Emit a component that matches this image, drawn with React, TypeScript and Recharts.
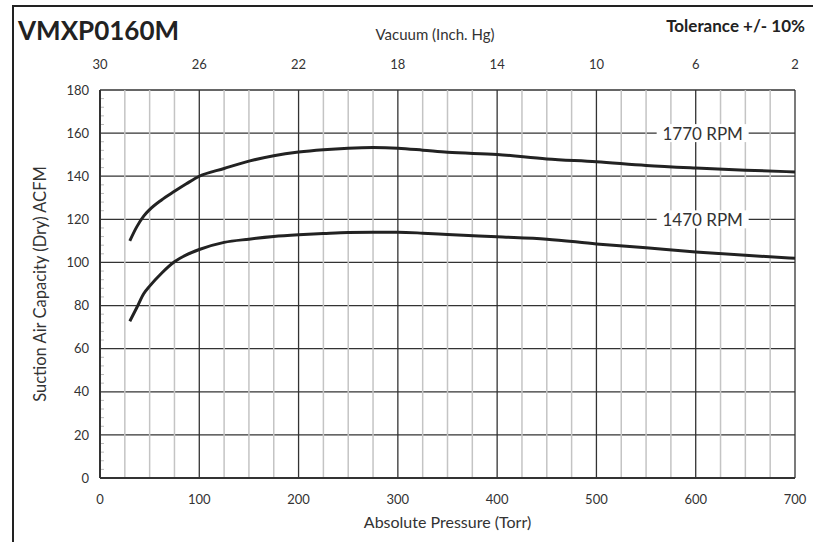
import React from 'react'
import {
  LineChart,
  Line,
  XAxis,
  YAxis,
  CartesianGrid,
  ReferenceLine,
  ReferenceDot,
} from 'recharts'

// absolute pressure, Torr
const pressure = [30, 37, 44, 50, 62, 75, 87, 100, 125, 150, 175, 200, 225, 250, 275, 300, 325, 350, 400, 450, 500, 550, 600, 650, 700]
// ACFM at each pressure
const rpm1770 = [110, 116.5, 121.5, 124.5, 129, 133, 136.5, 140, 143.6, 147, 149.5, 151.2, 152.3, 153, 153.3, 153, 152.1, 151.1, 150.1, 148, 146.7, 145, 143.8, 142.8, 142]
const rpm1470 = [72.7, 79, 85.5, 89, 95, 100.3, 103.5, 106, 109.3, 110.8, 112, 112.8, 113.4, 113.9, 114, 114, 113.6, 113, 111.9, 110.8, 108.6, 106.8, 104.9, 103.3, 101.9]

const pressureTicks = [0, 100, 200, 300, 400, 500, 600, 700]
const vacuumLabels = ['30', '26', '22', '18', '14', '10', '6', '2']
const minorTicks = [25, 50, 75, 125, 150, 175, 225, 250, 275, 325, 350, 375, 425, 450, 475, 525, 550, 575, 625, 650, 675]
const capacityTicks = [0, 20, 40, 60, 80, 100, 120, 140, 160, 180]
const capacityMinor = [4, 8, 12, 16, 24, 28, 32, 36, 44, 48, 52, 56, 64, 68, 72, 76, 84, 88, 92, 96, 104, 108, 112, 116, 124, 128, 132, 136, 144, 148, 152, 156, 164, 168, 172, 176]

const curveLabels = [
  { text: '1770 RPM', x: 607, y: 160 },
  { text: '1470 RPM', x: 607, y: 120 },
]

const data = pressure.map((p, i) => ({ p, a: rpm1770[i], b: rpm1470[i] }))

const font = 'Lato, "Open Sans", sans-serif'
const ink = '#222'

const CurveTag = (props: any) => {
  const { cx, cy, text } = props
  return (
    <g>
      <rect x={cx - 46} y={cy - 9} width={92} height={18} fill="#fff" />
      <text x={cx} y={cy} textAnchor="middle" dominantBaseline="central" fontSize={17} fill="#333" fontFamily={font}>
        {text}
      </text>
    </g>
  )
}

export default function App() {
  return (
    <div style={{ position: 'absolute', left: 0, top: 0, width: 813, height: 542, background: '#fff', fontFamily: font }}>
      <div style={{ position: 'absolute', left: 12, top: 5, right: 0, bottom: 0, borderLeft: `2.5px solid ${ink}`, borderTop: `2.5px solid ${ink}` }} />
      <div style={{ position: 'absolute', left: 18, top: 14, fontSize: 26, fontWeight: 700, color: ink }}>VMXP0160M</div>
      <div style={{ position: 'absolute', right: 8, top: 15, fontSize: 17, fontWeight: 700, color: ink }}>Tolerance +/- 10%</div>
      <div style={{ position: 'absolute', left: 435, top: 25, transform: 'translateX(-50%)', fontSize: 15, color: '#333' }}>
        Vacuum (Inch. Hg)
      </div>

      <LineChart
        width={813}
        height={542}
        data={data}
        margin={{ top: 60, right: 18, bottom: 34, left: 60 }}
        style={{ position: 'absolute', left: 0, top: 0 }}
      >
        {minorTicks.map((t) => (
          <ReferenceLine key={t} x={t} stroke="#c4c4c4" strokeWidth={1.5} />
        ))}
        <CartesianGrid stroke="#333" strokeWidth={1.3} strokeDasharray="" />
        {capacityMinor.map((v) => (
          <ReferenceLine
            key={'m' + v}
            segment={[{ x: 0, y: v }, { x: 4, y: v }]}
            stroke="#bbb"
          />
        ))}
        <XAxis
          dataKey="p"
          type="number"
          domain={[0, 700]}
          ticks={pressureTicks}
          tickLine={false}
          axisLine={{ stroke: '#333', strokeWidth: 2 }}
          tickMargin={11}
          height={30}
          tick={{ fontSize: 13, fill: '#333', fontFamily: font }}
          label={{ value: 'Absolute Pressure (Torr)', position: 'bottom', offset: 9, style: { fontSize: 16, fill: '#333', fontFamily: font } }}
        />
        <XAxis
          xAxisId="top"
          dataKey="p"
          orientation="top"
          type="number"
          domain={[0, 700]}
          ticks={pressureTicks}
          tickFormatter={(v: number) => vacuumLabels[pressureTicks.indexOf(v)]}
          tickLine={false}
          axisLine={false}
          tickMargin={15}
          height={30}
          tick={{ fontSize: 13, fill: '#333', fontFamily: font }}
        />
        <YAxis
          type="number"
          domain={[0, 180]}
          ticks={capacityTicks}
          tickLine={false}
          axisLine={{ stroke: '#333', strokeWidth: 2 }}
          tickMargin={5}
          width={40}
          tick={{ fontSize: 13, fill: '#333', fontFamily: font }}
          label={{ value: 'Suction Air Capacity (Dry) ACFM', angle: -90, position: 'left', offset: 20, style: { fontSize: 16.5, fill: '#333', fontFamily: font, textAnchor: 'middle' } }}
        />
        <Line type="monotone" dataKey="a" stroke={ink} strokeWidth={3} dot={false} isAnimationActive={false} />
        <Line type="monotone" dataKey="b" stroke={ink} strokeWidth={3} dot={false} isAnimationActive={false} />
        {curveLabels.map((c) => (
          <ReferenceDot key={c.text} x={c.x} y={c.y} r={0} shape={(p: any) => <CurveTag {...p} text={c.text} />} />
        ))}
      </LineChart>
    </div>
  )
}
